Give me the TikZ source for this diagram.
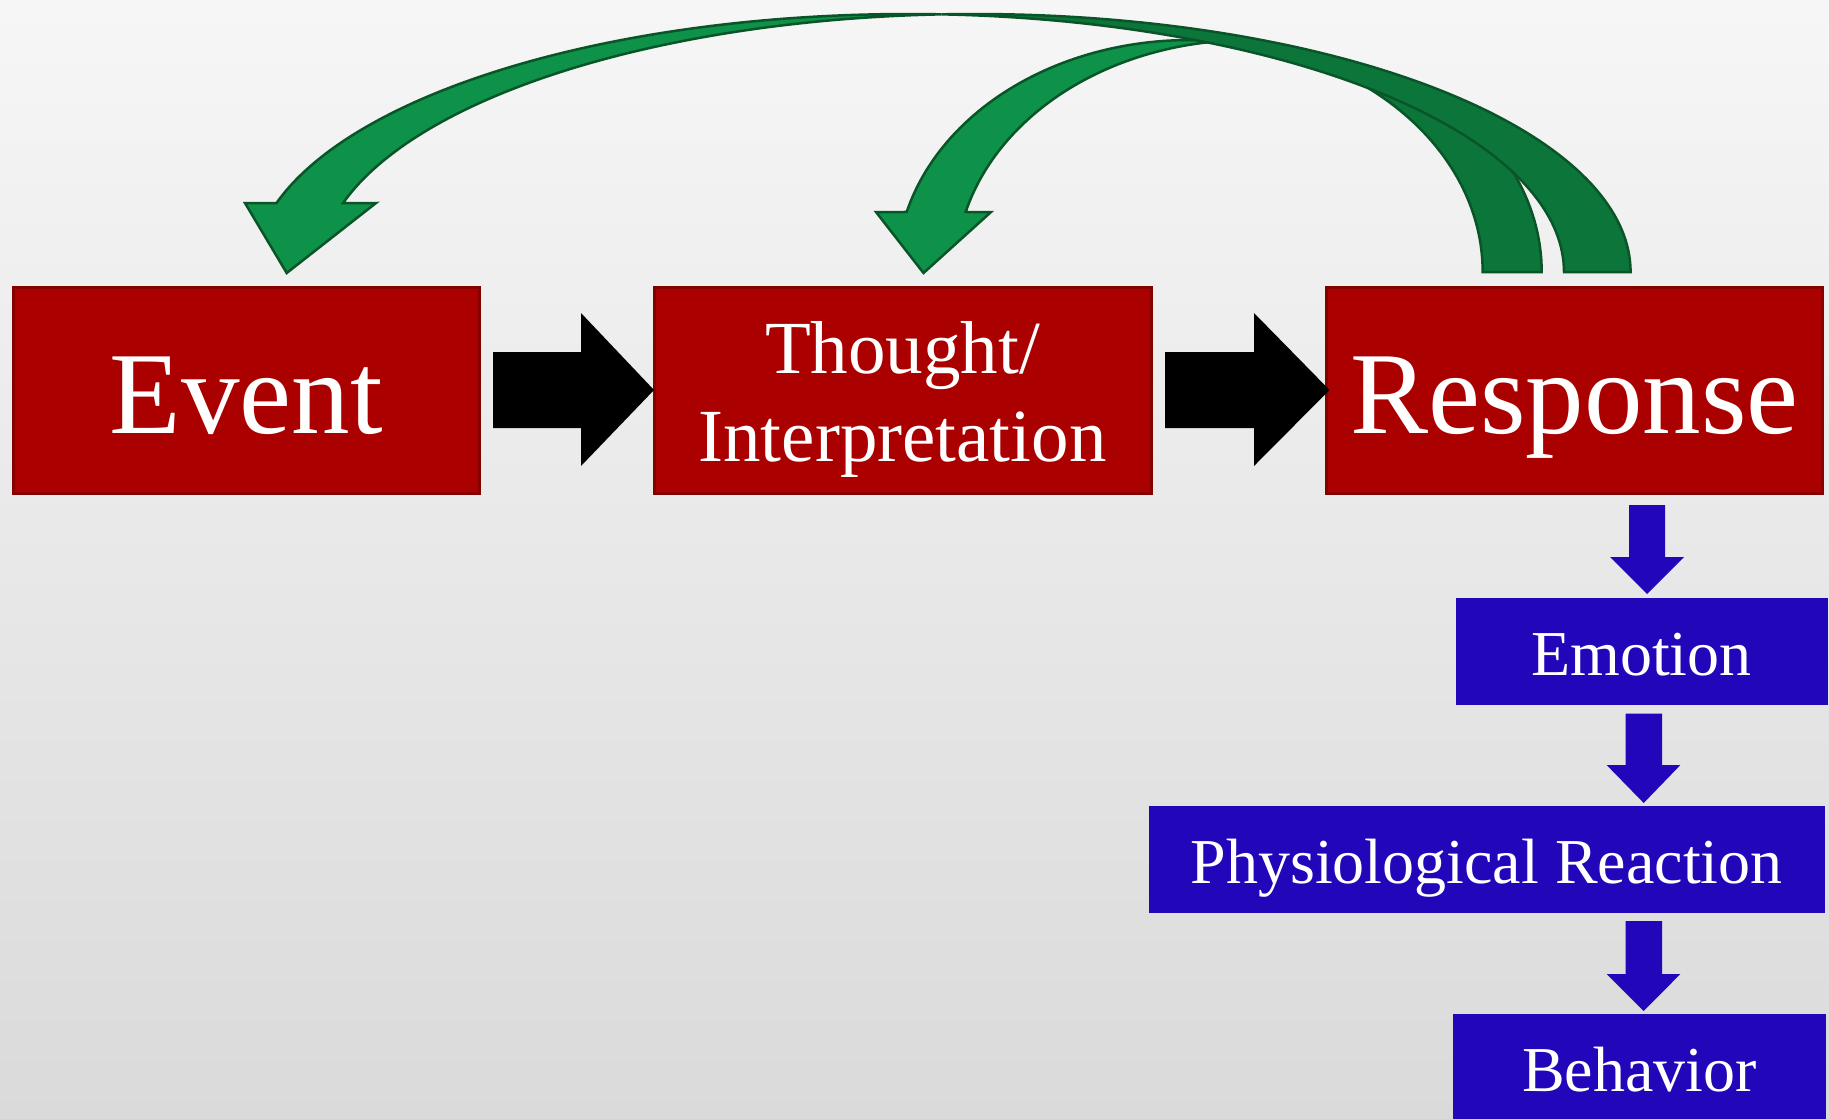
\documentclass[tikz,border=0pt]{standalone}
\usepackage{fontspec}
\setmainfont{Liberation Serif}
\definecolor{bgtop}{gray}{0.965}
\definecolor{bgbot}{gray}{0.855}
\definecolor{redfill}{RGB}{170,0,0}
\definecolor{redline}{RGB}{135,0,0}
\definecolor{bluefill}{RGB}{34,6,185}
\definecolor{greenfront}{RGB}{14,145,72}
\definecolor{greenback}{RGB}{12,118,58}
\definecolor{greenline}{RGB}{10,85,40}
\begin{document}
\begin{tikzpicture}[x=1pt,y=-1pt,
  redbox/.style={fill=redfill,draw=redline,line width=3pt,inner sep=0pt},
  bluebox/.style={fill=bluefill,draw=none,inner sep=0pt},
  bigtext/.style={text=white,anchor=base,inner sep=0pt,font=\fontsize{117}{140}\selectfont},
  midtext/.style={text=white,anchor=base,inner sep=0pt,font=\fontsize{75}{88}\selectfont},
  smalltext/.style={text=white,anchor=base,inner sep=0pt,font=\fontsize{64}{76}\selectfont},
  front/.style={fill=greenfront,draw=greenline,line width=2.5pt},
  back/.style={fill=greenback,draw=greenline,line width=2.5pt},
  blackblock/.style={fill=black},
  blueblock/.style={fill=bluefill}]
\useasboundingbox (0,0) rectangle (1829,1119);
\clip (0,0) rectangle (1829,1119);
\shade[top color=bgtop,bottom color=bgbot] (0,0) rectangle (1829,1119);

% green curved arrow to Thought (behind the other one)
\begin{scope}
\clip plot[domain=180:0,samples=80] ({974.9+655.7*cos(\x)},{272-258*sin(\x)}) -- (1829,1119) -- (0,1119) -- cycle;
\filldraw[back] plot[domain=95.78:0,samples=60] ({1248.7+293*cos(\x)},{272-232*sin(\x)})
  -- plot[domain=0:84.22,samples=60] ({1189.7+293*cos(\x)},{272-232*sin(\x)}) -- cycle;
\end{scope}
\filldraw[front] (876,212)
  -- plot[domain=165.01:84.22,samples=60] ({1189.7+293*cos(\x)},{272-232*sin(\x)})
  -- plot[domain=95.78:165.01,samples=60] ({1248.7+293*cos(\x)},{272-232*sin(\x)})
  -- (991,212) -- (923.5,273) -- cycle;

% green curved arrow to Event (in front)
\filldraw[back] plot[domain=92.91:0,samples=80] ({974.9+655.7*cos(\x)},{272-258*sin(\x)})
  -- plot[domain=0:87.09,samples=80] ({908.3+655.7*cos(\x)},{272-258*sin(\x)}) -- cycle;
\filldraw[front] (245,203)
  -- plot[domain=164.5:87.09,samples=80] ({908.3+655.7*cos(\x)},{272-258*sin(\x)})
  -- plot[domain=92.91:164.5,samples=80] ({974.9+655.7*cos(\x)},{272-258*sin(\x)})
  -- (376,203) -- (286.7,273) -- cycle;

% red boxes
\node[redbox,minimum width=466.3,minimum height=206.3] (event) at (246.35,390.35) {};
\node[redbox,minimum width=497,minimum height=206.3] (thought) at (903,390.35) {};
\node[redbox,minimum width=495.6,minimum height=206.3] (response) at (1574.7,390.35) {};
\node[bigtext] (eventtxt) at (246.4,433) {Event};
\node[midtext] (thoughttxta) at (902.5,373) {Thought/};
\node[midtext] (thoughttxtb) at (902.5,461) {Interpretation};
\node[bigtext] (responsetxt) at (1574.5,433) {Response};

% black block arrows
\fill[blackblock] (493,352)--(581,352)--(581,313)--(654,390)--(581,466)--(581,428)--(493,428)--cycle;
\fill[blackblock] (1165,352)--(1254,352)--(1254,313)--(1329.5,390)--(1254,466)--(1254,428)--(1165,428)--cycle;

% blue boxes
\node[bluebox,minimum width=371.4,minimum height=107.3] (emotion) at (1642,651.65) {};
\node[bluebox,minimum width=675.7,minimum height=107.2] (physio) at (1486.65,859.6) {};
\node[bluebox,minimum width=373.2,minimum height=107] (behavior) at (1639.4,1067.5) {};
\node[smalltext] (emotiontxt) at (1641.5,675.6) {Emotion};
\node[smalltext] (physiotxt) at (1486.6,883.4) {Physiological Reaction};
\node[smalltext] (behaviortxt) at (1639.5,1091.2) {Behavior};

% blue block arrows
\fill[blueblock] (1629,505)--(1665,505)--(1665,557)--(1684,557)--(1647,594)--(1610,557)--(1629,557)--cycle;
\fill[blueblock] (1625.5,713.5)--(1662,713.5)--(1662,765)--(1680.4,765)--(1643.7,803)--(1606.6,765)--(1625.5,765)--cycle;
\fill[blueblock] (1625.5,921)--(1662,921)--(1662,974)--(1680.4,974)--(1643.7,1011)--(1606.6,974)--(1625.5,974)--cycle;
\end{tikzpicture}
\end{document}
